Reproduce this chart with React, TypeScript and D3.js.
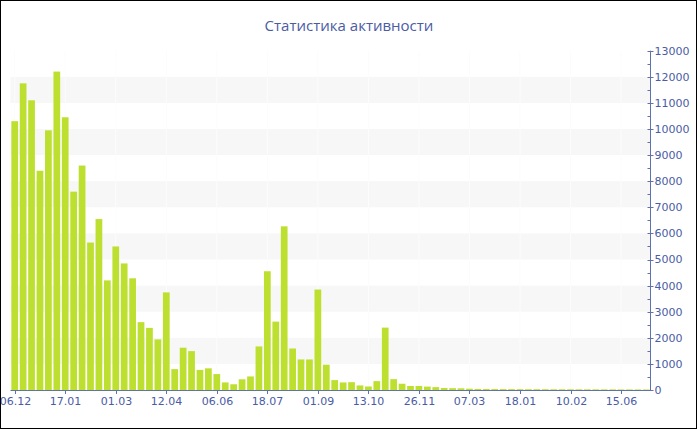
import React from 'react';
import * as d3 from 'd3';

// weekly activity values
const values: number[] = [
  10300, 11750, 11100, 8400, 9950, 12200, 10450, 7600, 8600, 5650,
  6550, 4200, 5500, 4850, 4280, 2600, 2380, 1940, 3740, 800,
  1620, 1490, 770, 830, 610, 290, 220, 410, 520, 1670,
  4550, 2620, 6270, 1590, 1170, 1170, 3850, 970, 380, 290,
  300, 175, 135, 340, 2390, 415, 240, 153, 153, 130,
  110, 76, 70, 65, 50, 40, 38, 36, 35, 34,
  32, 30, 30, 30, 28, 28, 27, 26, 25, 25,
  24, 23, 22, 22, 21, 20,
];

// x labels, one every 6 bars
const tickLabels: string[] = [
  '06.12', '17.01', '01.03', '12.04', '06.06', '18.07', '01.09',
  '13.10', '26.11', '07.03', '18.01', '10.02', '15.06',
];
const tickEvery = 6;

const yTicks: number[] = d3.range(0, 13001, 1000);

const W = 700;
const H = 430;
const left = 10.5, right = 650.5, top = 50.7, bottom = 390;

const textColor = '#4a5ca4';
const axisColor = '#5f72ad';
const barColor = '#bde030';

const App = () => {
  const x = d3.scaleBand<number>()
    .domain(d3.range(values.length))
    .range([left, right])
    .paddingInner(0.2)
    .paddingOuter(0.1);

  const y = d3.scaleLinear().domain([0, 13000]).range([bottom, top]);

  const minor = d3.range(500, 13000, 1000);
  const bands = yTicks.filter(v => v % 2000 === 1000 && v < 13000);

  return (
    <svg width={W} height={H} style={{ position: 'absolute', left: 0, top: 0, background: '#fff' }}
      fontFamily="'DejaVu Sans', sans-serif">
      {/* shaded bands */}
      {bands.map(v => (
        <rect key={v} x={left} width={right - left} y={y(v + 1000)} height={y(v) - y(v + 1000)} fill="#f7f7f7" />
      ))}
      {/* faint vertical grid */}
      {tickLabels.map((_, i) => {
        const cx = (x(i * tickEvery) ?? 0) + x.bandwidth() / 2;
        return <line key={i} x1={cx} x2={cx} y1={top} y2={bottom} stroke="#fcfcfc" />;
      })}
      {/* bars */}
      {values.map((v, i) => (
        <rect key={i} x={x(i)} width={x.bandwidth()} y={y(v)} height={bottom - y(v)} fill={barColor} />
      ))}
      {/* x axis */}
      <line x1={left} x2={right} y1={bottom + 0.5} y2={bottom + 0.5} stroke={axisColor} />
      {tickLabels.map((t, i) => {
        const cx = Math.round((x(i * tickEvery) ?? 0) + x.bandwidth() / 2) + 0.5;
        return (
          <g key={t}>
            <line x1={cx} x2={cx} y1={bottom} y2={bottom + 4} stroke={axisColor} />
            <text x={cx} y={405} textAnchor="middle" fontSize={11} fill={textColor}>{t}</text>
          </g>
        );
      })}
      {/* y axis on the right */}
      <line x1={right} x2={right} y1={top} y2={bottom + 1} stroke={axisColor} />
      {minor.map(v => (
        <line key={v} x1={right - 3} x2={right} y1={Math.round(y(v)) + 0.5} y2={Math.round(y(v)) + 0.5} stroke={axisColor} />
      ))}
      {yTicks.map(v => (
        <g key={v}>
          <line x1={right - 3} x2={right + 3} y1={Math.round(y(v)) + 0.5} y2={Math.round(y(v)) + 0.5} stroke={axisColor} />
          <text x={right + 4} y={y(v)} dy="0.36em" fontSize={11} fill={textColor}>{v}</text>
        </g>
      ))}
      {/* title */}
      <text x={349} y={31} textAnchor="middle" fontSize={15} fontFamily="'Open Sans', sans-serif" fill={textColor}>
        Статистика активности
      </text>
      {/* frame */}
      <rect x={0.5} y={0.5} width={696} height={428} fill="none" stroke="#000" />
    </svg>
  );
};

export default App;
